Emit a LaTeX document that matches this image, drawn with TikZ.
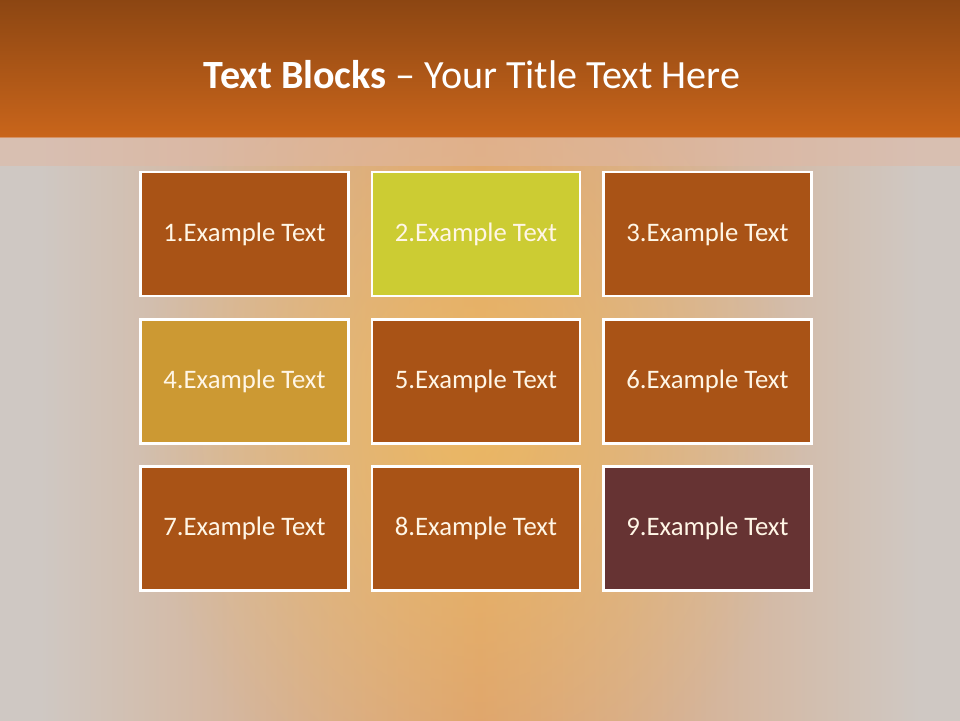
\documentclass[tikz,border=0pt]{standalone}
\usepackage{fontspec}
\setmainfont{Carlito}
\usetikzlibrary{positioning,fadings}
\definecolor{barTop}{HTML}{8A4512}
\definecolor{barBot}{HTML}{C9651B}
\definecolor{bandCol}{HTML}{E0B8A4}
\definecolor{bgGray}{HTML}{CFC8C3}
\definecolor{glowIn}{HTML}{F0C060}
\definecolor{warmMid}{HTML}{DCA070}
\definecolor{rustBox}{HTML}{A95316}
\definecolor{limeBox}{HTML}{CCCC33}
\definecolor{goldBox}{HTML}{CC9933}
\definecolor{wineBox}{HTML}{663333}
\definecolor{boxText}{HTML}{FFF6E6}
\tikzfading[name=glowfade, inner color=transparent!0, outer color=transparent!100]

\begin{document}
\begin{tikzpicture}[x=0.02cm, y=-0.02cm,
    textblock/.style={draw=white, line width=1.6pt, inner sep=0pt,
      minimum width=4.16cm, minimum height=2.48cm, text=boxText, font=\fontsize{15.2}{17}\selectfont},
    titletext/.style={text=white, font=\fontsize{22.8}{27}\selectfont}]
  \useasboundingbox (0,0) rectangle (960,720);
  % background with warm glow
  \fill[bgGray] (-5,-5) rectangle (965,730);
  \shade[left color=bgGray, right color=bgGray, middle color=warmMid] (40,137) rectangle (920,730);
  \fill[glowIn, path fading=glowfade, opacity=0.75] (470,420) ellipse [x radius=330, y radius=420];
  % title bar and band
  \shade[top color=barTop, bottom color=barBot] (-5,-5) rectangle (965,137);
  \fill[bandCol, opacity=0.55] (-5,137) rectangle (965,166);
  \node[titletext] (title) at (472,75) {\textbf{Text Blocks} – Your Title Text Here};
  % the nine blocks
  \foreach \col [count=\i] in {rustBox,limeBox,rustBox,goldBox,rustBox,rustBox,rustBox,rustBox,wineBox} {
    \pgfmathtruncatemacro{\cx}{mod(\i-1,3)}
    \pgfmathtruncatemacro{\ry}{div(\i-1,3)}
    \node[textblock, fill=\col] (b\i) at (244.5+231.5*\cx, 234+147.2*\ry) {\i.Example Text};
  }
\end{tikzpicture}
\end{document}
